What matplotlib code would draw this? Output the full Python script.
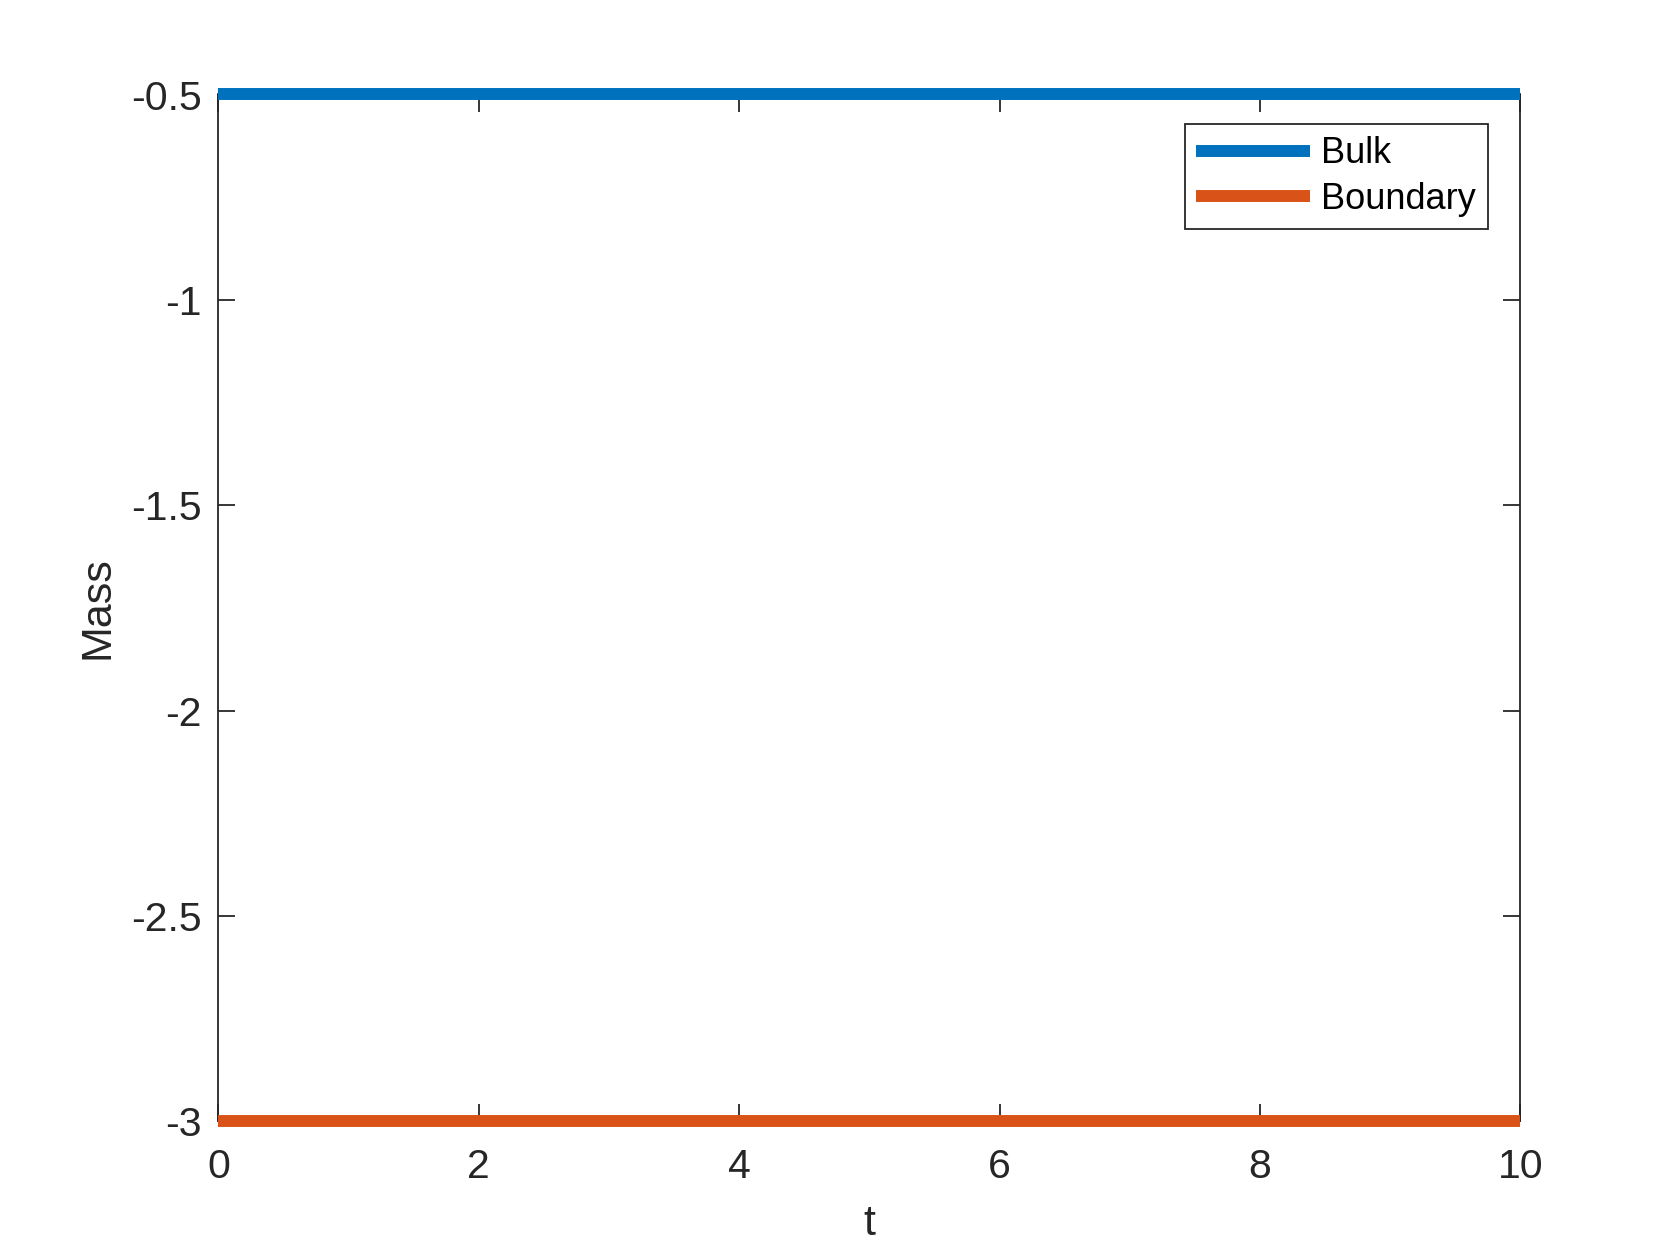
import numpy as np
import matplotlib
matplotlib.use("Agg")
import matplotlib.pyplot as plt

# data
t = [0, 2, 4, 6, 8, 10]
bulk = [-0.5, -0.5, -0.5, -0.5, -0.5, -0.5]
boundary = [-3, -3, -3, -3, -3, -3]

plt.rcParams['font.family'] = ['Liberation Sans', 'DejaVu Sans']

fig = plt.figure(figsize=(16.8, 12.6), dpi=100)
ax = fig.add_axes([0.13, 0.11, 0.775, 0.815])

ax.plot(t, bulk, color='#0072BD', lw=8.6, label='Bulk', clip_on=False,
        solid_capstyle='butt', zorder=5)
ax.plot(t, boundary, color='#D95319', lw=8.6, label='Boundary', clip_on=False,
        solid_capstyle='butt', zorder=5)

ax.set_xlim(0, 10)
ax.set_ylim(-3, -0.5)
ax.set_xticks([0, 2, 4, 6, 8, 10])
ax.set_yticks([-3, -2.5, -2, -1.5, -1, -0.5])
ax.set_xticklabels(['0', '2', '4', '6', '8', '10'])
ax.set_yticklabels(['-3', '-2.5', '-2', '-1.5', '-1', '-0.5'])

gray = '#262626'
for s in ax.spines.values():
    s.set_color(gray)
    s.set_linewidth(1.3)
    s.set_zorder(3)
ax.tick_params(direction='in', length=12, width=1.3, colors=gray, labelsize=29.5,
               top=True, right=True)
ax.tick_params(axis='x', pad=19)
ax.tick_params(axis='y', pad=12)

ax.set_xlabel('t', fontsize=31, color=gray, labelpad=13)
ax.set_ylabel('Mass', fontsize=31, color=gray, labelpad=10)

leg = ax.legend(loc='upper right', bbox_to_anchor=(0.975, 0.971), fontsize=26,
                handlelength=3.15, handletextpad=0.3, borderpad=0.33,
                labelspacing=0.3, fancybox=False, framealpha=1, borderaxespad=0)
leg.get_frame().set_edgecolor(gray)
leg.get_frame().set_linewidth(1.3)
leg.set_zorder(6)

fig.savefig('out.png', dpi=100)
